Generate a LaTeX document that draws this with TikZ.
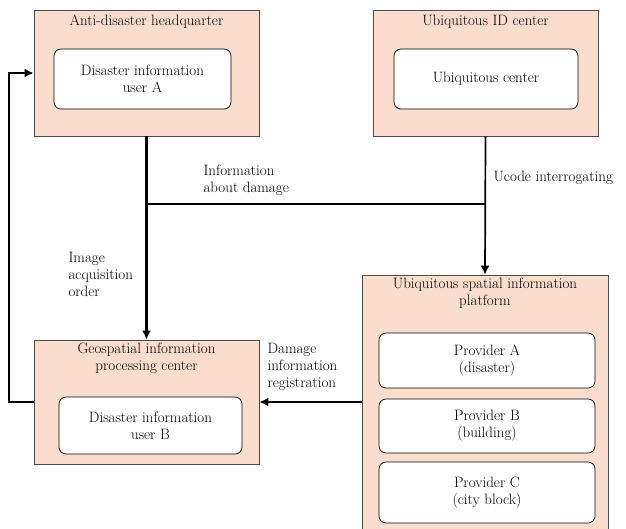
\documentclass[tikz,border=0pt]{standalone}
\usetikzlibrary{arrows.meta, positioning}
\definecolor{peach}{RGB}{250,221,204}
\tikzset{center/.style = {rectangle, draw=black!70, line width=0.8pt, fill=peach, inner sep=0pt},
         unit/.style = {rectangle, draw, line width=0.7pt, fill=white, rounded corners=7pt, align=center, inner sep=0pt},
         title/.style = {align=center},
         note/.style = {anchor=west, align=left},
         bigarrow/.style = {line width=2.8pt, -{Latex[length=9pt, width=9pt]}},
         midarrow/.style = {line width=1.7pt, -{Latex[length=9pt, width=9pt]}}}

\begin{document}
\begin{tikzpicture}[x=1pt, y=-1pt, font=\fontsize{15}{17}\selectfont]
    \path[use as bounding box, clip] (0,0) rectangle (626,528);

    % centres
    \node[center, minimum width=225pt, minimum height=126pt] (hq) at (146.5,73) {};
    \node[center, minimum width=225pt, minimum height=126pt] (idc) at (485.5,73) {};
    \node[center, minimum width=225pt, minimum height=124pt] (geo) at (146.5,402) {};
    \node[center, minimum width=246pt, minimum height=265pt] (plat) at (485,407.5) {};

    \node[title] (hqname) at (146.5,22) {Anti-disaster headquarter};
    \node[title] (idcname) at (485.5,22) {Ubiquitous ID center};
    \node[title] (geoname) at (146.5,358) {Geospatial information\\processing center};
    \node[title] (platname) at (485,293) {Ubiquitous spatial information\\platform};

    % inner units
    \node[unit, minimum width=177pt, minimum height=60pt] (usera) at (142.5,79) {Disaster information\\user A};
    \node[unit, minimum width=184pt, minimum height=60pt] (ubic) at (486,79) {Ubiquitous center};
    \node[unit, minimum width=183pt, minimum height=57pt] (userb) at (150.5,425.5) {Disaster information\\user B};
    \node[unit, minimum width=216pt, minimum height=55pt] (provA) at (487,360.5) {Provider A\\(disaster)};
    \node[unit, minimum width=216pt, minimum height=54pt] (provB) at (487,426) {Provider B\\(building)};
    \node[unit, minimum width=216pt, minimum height=61pt] (provC) at (487,492.5) {Provider C\\(city block)};

    % flows
    \coordinate (split) at (hq.south |- 0,204);
    \coordinate (loop) at (9,402);
    \draw[bigarrow] (hq.south) -- (geo.north);
    \draw[line width=1.7pt] (split) -- (split -| idc.south);
    \draw[midarrow] (idc.south) -- (plat.north);
    \draw[bigarrow] (geo.west) -- (loop) |- (hq.west);
    \draw[midarrow] (plat.west |- geo.east) -- (geo.east);

    \node[note] (damage) at (200,180) {Information\\about damage};
    \node[note] (ucode) at (490,178) {Ucode interrogating};
    \node[note] (order) at (65,274) {Image\\acquisition\\order};
    \node[note] (regist) at (264,367) {Damage\\information\\registration};
\end{tikzpicture}
\end{document}
